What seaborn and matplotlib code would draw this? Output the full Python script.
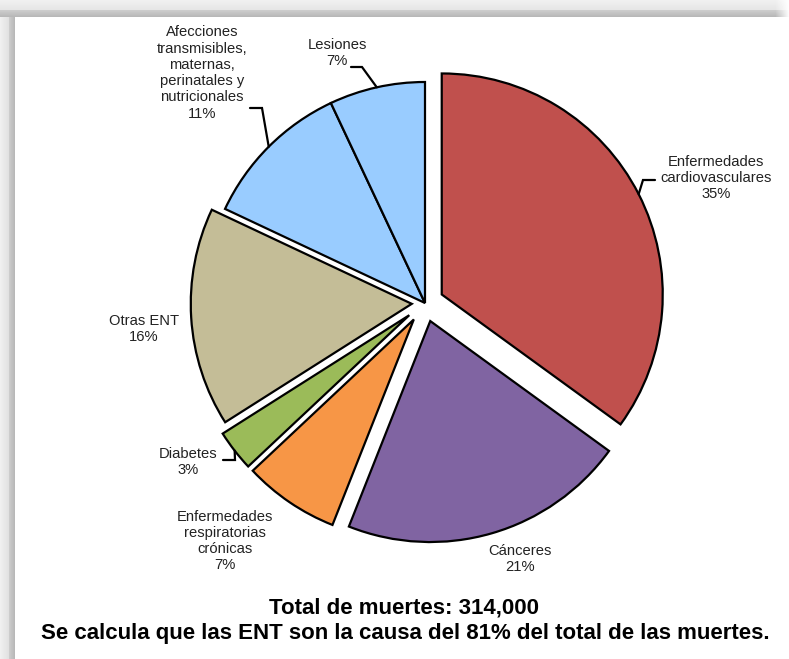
import numpy as np
import matplotlib
matplotlib.use("Agg")
import matplotlib.pyplot as plt
import seaborn as sns

# Causes of death and their share of the total (%)
categories = [
    "Enfermedades\ncardiovasculares",
    "Cánceres",
    "Enfermedades\nrespiratorias\ncrónicas",
    "Diabetes",
    "Otras ENT",
    "Afecciones\ntransmisibles,\nmaternas,\nperinatales y\nnutricionales",
    "Lesiones",
]
shares = [35, 21, 7, 3, 16, 11, 7]
slice_colors = ["#C0504D", "#8064A2", "#F79646", "#9BBB59", "#C4BD97", "#99CCFF", "#99CCFF"]
explode_frac = [0.085, 0.085, 0.09, 0.09, 0.06, 0.0, 0.0]

total_text = "Total de muertes: 314,000"
note_text = "Se calcula que las ENT son la causa del 81% del total de las muertes."

sns.set_theme(style="white")
plt.rcParams["font.family"] = ["Liberation Sans", "DejaVu Sans"]

W, H = 789, 659
fig = plt.figure(figsize=(W / 100, H / 100), dpi=100)
fig.patch.set_facecolor("white")

# soft grey frame along the top and left edges
bg = np.ones((H, W))
top = np.concatenate([np.linspace(0.94, 0.90, 10), np.linspace(0.80, 0.72, 7)])
left = np.concatenate([np.linspace(0.94, 0.88, 9), np.linspace(0.80, 0.72, 6)])
for i, v in enumerate(top):
    bg[i, :] = np.minimum(bg[i, :], v)
for j, v in enumerate(left):
    bg[len(top):, j] = np.minimum(bg[len(top):, j], v)
fade = np.clip((W - np.arange(W)) / 14.0, 0, 1)
bg[:len(top), :] = 1 - (1 - bg[:len(top), :]) * fade[None, :]
bax = fig.add_axes([0, 0, 1, 1])
bax.imshow(bg, cmap="gray", vmin=0, vmax=1, extent=(0, W, 0, H), aspect="auto",
           interpolation="bilinear")
bax.set_axis_off()

ax = fig.add_axes([0, 0, 1, 1])
ax.patch.set_alpha(0)
R = 221
center = (425, H - 303)
wedges, _ = ax.pie(
    shares,
    colors=slice_colors,
    explode=[e * R for e in explode_frac],
    startangle=90,
    counterclock=False,
    center=center,
    radius=R,
    wedgeprops=dict(edgecolor="black", linewidth=1.6),
)
ax.set_xlim(0, W)
ax.set_ylim(0, H)
ax.set_aspect("equal")
ax.set_axis_off()


def arc_point(w):
    mid = np.deg2rad((w.theta1 + w.theta2) / 2)
    cx, cy = w.center
    return cx + w.r * np.cos(mid), cy + w.r * np.sin(mid)


fs = 10.6
labels = [f"{c}\n{s}%" for c, s in zip(categories, shares)]
# label centres in pixel coordinates (x, y from top)
label_pos = [(716, 178), (520, 559), (225, 541), (188, 462), (144, 329), (202, 73), (337, 53)]
for lab, (lx, ly) in zip(labels, label_pos):
    ax.text(lx, H - ly, lab, ha="center", va="center", fontsize=fs, color="#222222",
            linespacing=1.2)

# leader lines: (label end) -> (elbow) -> point on the slice edge
leaders = {
    0: [(655, 180), (643, 180)],
    3: [(223, 460), (235, 460)],
    5: [(250, 108), (262, 108)],
    6: [(351, 67), (362, 67)],
}
for idx, pts in leaders.items():
    ex, ey = arc_point(wedges[idx])
    xs = [p[0] for p in pts] + [ex]
    ys = [H - p[1] for p in pts] + [ey]
    ax.plot(xs, ys, color="black", lw=1.6, solid_joinstyle="miter")

ax.text(404, H - 608, total_text, ha="center", va="center", fontsize=16, fontweight="bold",
        color="black")
ax.text(405, H - 633, note_text, ha="center", va="center", fontsize=16, fontweight="bold",
        color="black")

fig.savefig("out.png", dpi=100)
